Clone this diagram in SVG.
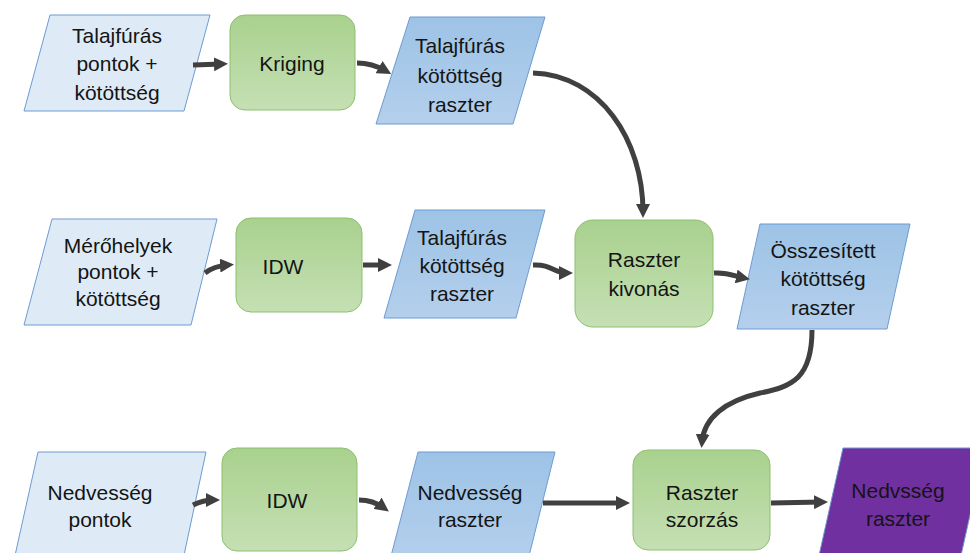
<svg xmlns="http://www.w3.org/2000/svg" width="970" height="553" viewBox="0 0 970 553">
<defs>
<linearGradient id="gGreen" x1="0" y1="0" x2="0" y2="1">
<stop offset="0" stop-color="#A9D18E"/>
<stop offset="1" stop-color="#C5E0B4"/>
</linearGradient>
<linearGradient id="gBlue" x1="0" y1="0" x2="0" y2="1">
<stop offset="0" stop-color="#9DC3E6"/>
<stop offset="1" stop-color="#B4CFEC"/>
</linearGradient>
<marker id="ah" viewBox="0 0 14 14" refX="8" refY="7" markerWidth="14" markerHeight="14" markerUnits="userSpaceOnUse" orient="auto">
<path d="M0,0 L14,7 L0,14 z" fill="#404040"/>
</marker>
</defs>
<style>
.in{fill:#DEEBF7;stroke:#6C9BD2;stroke-width:1}
.ras{fill:url(#gBlue);stroke:#6C9BD2;stroke-width:1}
.proc{fill:url(#gGreen);stroke:#8CBF6E;stroke-width:1}
.out{fill:#7030A0;stroke:#6C9BD2;stroke-width:1}
text{font-family:"Liberation Sans",Arial,sans-serif;font-size:21px;fill:#141414;text-anchor:middle;dominant-baseline:central}
.c{fill:none;stroke:#404040;stroke-width:5;marker-end:url(#ah)}
</style>
<rect width="970" height="553" fill="#ffffff"/>

<g id="n1">
<polygon class="in" points="50,15 210,15 184,111 24,111"/>
<text x="117" y="35">Talajfúrás</text>
<text x="117" y="63">pontok +</text>
<text x="117" y="92">kötöttség</text>
</g>
<g id="n2">
<rect class="proc" x="230" y="15" width="125" height="95" rx="15"/>
<text x="292" y="63">Kriging</text>
</g>
<g id="n3">
<polygon class="ras" points="410,17 545,17 513,124 376,124"/>
<text x="460" y="45">Talajfúrás</text>
<text x="460" y="75">kötöttség</text>
<text x="460" y="104">raszter</text>
</g>

<g id="n4">
<polygon class="in" points="52,219 217,219 191,325 24,325"/>
<text x="118" y="245">Mérőhelyek</text>
<text x="118" y="271">pontok +</text>
<text x="118" y="298">kötöttség</text>
</g>
<g id="n5">
<rect class="proc" x="236" y="218" width="126" height="94" rx="15"/>
<text x="283" y="266">IDW</text>
</g>
<g id="n6">
<polygon class="ras" points="415,210 545,210 516,318 384,318"/>
<text x="462" y="237">Talajfúrás</text>
<text x="462" y="265">kötöttség</text>
<text x="462" y="293">raszter</text>
</g>
<g id="n7">
<rect class="proc" x="575" y="220" width="138" height="107" rx="18"/>
<text x="644" y="259">Raszter</text>
<text x="644" y="288">kivonás</text>
</g>
<g id="n8">
<polygon class="ras" points="760,224 910,224 887,329 737,329"/>
<text x="823" y="250">Összesített</text>
<text x="823" y="278">kötöttség</text>
<text x="823" y="307">raszter</text>
</g>

<g id="n9">
<polygon class="in" points="38,452 206,452 183,560 14,560"/>
<text x="100" y="492">Nedvesség</text>
<text x="100" y="519">pontok</text>
</g>
<g id="n10">
<rect class="proc" x="222" y="448" width="135" height="103" rx="15"/>
<text x="287" y="500">IDW</text>
</g>
<g id="n11">
<polygon class="ras" points="418,452 555,452 528,560 390,560"/>
<text x="470" y="492">Nedvesség</text>
<text x="470" y="519">raszter</text>
</g>
<g id="n12">
<rect class="proc" x="633" y="450" width="137" height="100" rx="15"/>
<text x="702" y="492">Raszter</text>
<text x="702" y="519">szorzás</text>
</g>
<g id="n13">
<polygon class="out" points="843,448 985,448 960,560 818,560"/>
<text x="898" y="490">Nedvsség</text>
<text x="898" y="518">raszter</text>
</g>

<g id="connectors">
<path class="c" d="M193,65 L222,64"/>
<path class="c" d="M357,63 Q372,63 386,71"/>
<path class="c" d="M533,73 C600,75 643,140 643,212"/>
<path class="c" d="M205,273 Q214,266 228,265"/>
<path class="c" d="M363,265 L386,265"/>
<path class="c" d="M533,265 C552,264 553,273 567,273"/>
<path class="c" d="M714,273 C728,272 734,276 744,278"/>
<path class="c" d="M812,330 C812,378 792,387 760,393 C725,401 704,418 702,442"/>
<path class="c" d="M193,505 Q203,500 214,500"/>
<path class="c" d="M359,500 Q373,500 384,508"/>
<path class="c" d="M543,503 L624,503"/>
<path class="c" d="M771,503 L822,502"/>
</g>
</svg>
